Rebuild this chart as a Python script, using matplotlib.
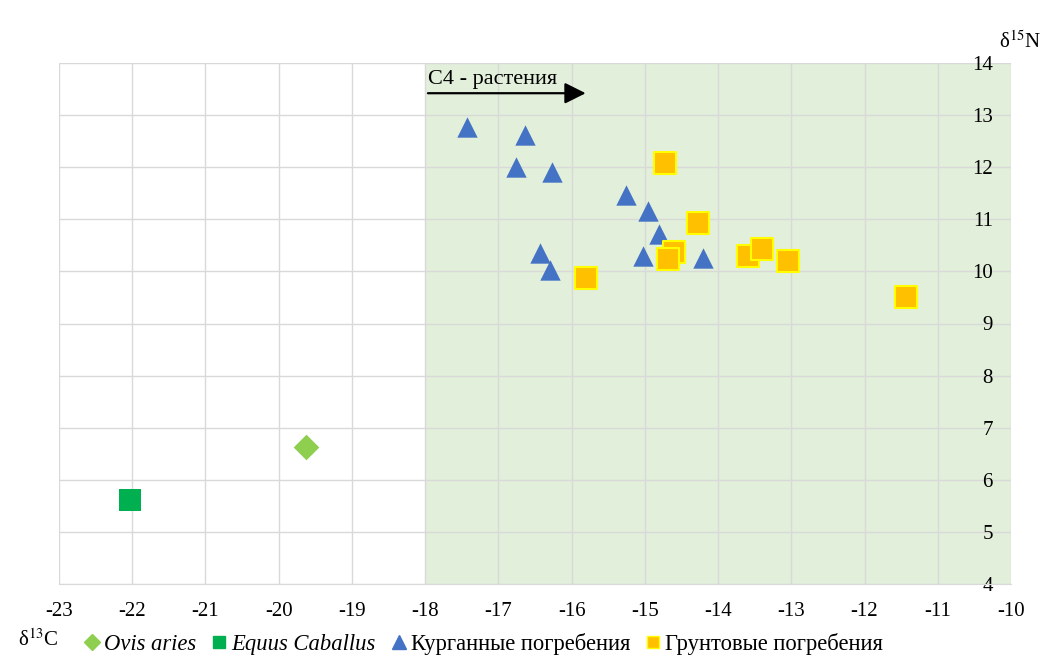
import matplotlib
matplotlib.use("Agg")
import matplotlib.pyplot as plt
from matplotlib.lines import Line2D

plt.rcParams['font.family'] = ['Liberation Serif', 'DejaVu Serif']
plt.rcParams['mathtext.fontset'] = 'stix'

# Data
ovis_x = [-19.63]
ovis_y = [6.62]
equus_x = [-22.03]
equus_y = [5.61]
kurgan_x = [-17.43, -16.64, -16.76, -16.27, -15.26, -14.96, -14.80, -16.43, -16.29, -15.02, -14.21]
kurgan_y = [12.78, 12.62, 12.00, 11.90, 11.47, 11.16, 10.72, 10.35, 10.03, 10.30, 10.26]
grunt_x = [-14.73, -14.27, -14.60, -14.68, -15.80, -13.59, -13.40, -13.05, -11.43]
grunt_y = [12.09, 10.93, 10.38, 10.24, 9.87, 10.30, 10.43, 10.20, 9.51]
x_ticks = list(range(-23, -9))
y_ticks = list(range(4, 15))
c4_start, c4_end = -18, -10

fig = plt.figure(figsize=(10.43, 6.59), dpi=100)
ax = fig.add_axes([59/1043, 1-584/659, 952/1043, 521/659])
ax.set_xlim(-23, -10)
ax.set_ylim(4, 14)
ax.axvspan(c4_start, c4_end, color='#e2efda', zorder=0, lw=0)
ax.set_axisbelow(True)
ax.grid(True, color='#d9d9d9', lw=1)
ax.set_xticks(x_ticks)
ax.set_yticks(y_ticks)
ax.set_xticklabels([str(v) for v in x_ticks])
ax.set_yticklabels([str(v) for v in y_ticks])
for s in ax.spines.values():
    s.set_visible(False)
ax.spines['bottom'].set_visible(True)
ax.spines['bottom'].set_color('#d9d9d9')
ax.tick_params(axis='x', length=0, pad=13, labelsize=15)
ax.tick_params(axis='y', length=0, left=False, labelleft=False, labelright=True, pad=-13, labelsize=15)
for lab in ax.get_yticklabels():
    lab.set_horizontalalignment('right')

ax.scatter(ovis_x, ovis_y, marker='D', s=170, color='#8fcf50', zorder=3, lw=0)
ax.scatter(equus_x, equus_y, marker='s', s=230, color='#00b050', zorder=3, lw=0)
ax.scatter(kurgan_x, kurgan_y, marker='^', s=215, color='#4472c4', zorder=3, lw=0)
ax.scatter(grunt_x, grunt_y, marker='s', s=240, facecolor='#ffc000', edgecolor='#ffff00', lw=1.5, zorder=4)

ax.annotate('', xy=(-15.77, 13.42), xytext=(-18.0, 13.42),
            arrowprops=dict(arrowstyle='-|>', color='black', lw=1.6, mutation_scale=32))
ax.text(-17.96, 13.5, 'C4 - растения', fontsize=16, ha='left', va='bottom')

fig.text(1041/1043, 1-42/659, 'δ$^{15}$N', fontsize=15, ha='right', va='center')
fig.text(18/1043, 1-640/659, 'δ$^{13}$C', fontsize=15, ha='left', va='center')

handles = [
    Line2D([], [], ls='', marker='D', color='#8fcf50', markersize=8),
    Line2D([], [], ls='', marker='s', color='#00b050', markersize=9),
    Line2D([], [], ls='', marker='^', color='#4472c4', markersize=10),
    Line2D([], [], ls='', marker='s', markerfacecolor='#ffc000', markeredgecolor='#ffff00', markersize=9),
]
labels = ['Ovis aries', 'Equus Caballus', 'Курганные погребения', 'Грунтовые погребения']
leg = fig.legend(handles, labels, loc='center left', bbox_to_anchor=(86/1043, 1-644/659),
                 ncol=4, frameon=False, fontsize=16.3, handlelength=0.55, handletextpad=0.25,
                 columnspacing=0.75, borderpad=0, borderaxespad=0)
for t in leg.get_texts()[:2]:
    t.set_fontstyle('italic')

fig.savefig('out.png', dpi=100)
